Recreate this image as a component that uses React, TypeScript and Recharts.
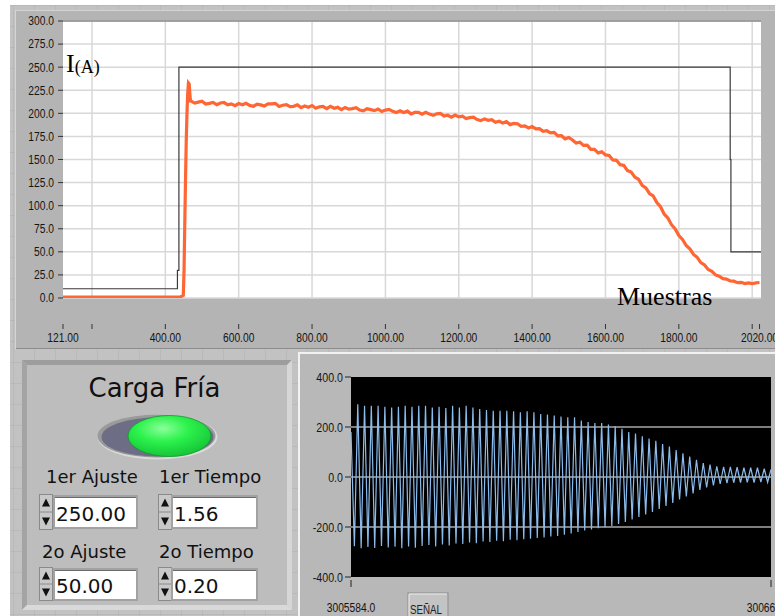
import React from 'react';
import { LineChart, Line, XAxis, YAxis, CartesianGrid, ReferenceLine } from 'recharts';

// ---- gráfico superior: corriente vs muestras ----
const ticksCorriente = [0, 25, 50, 75, 100, 125, 150, 175, 200, 225, 250, 275, 300];
const ticksMuestras = [121, 200, 400, 600, 800, 1000, 1200, 1400, 1600, 1800, 2000, 2020];
const etiquetasMuestras = [121, 400, 600, 800, 1000, 1200, 1400, 1600, 1800, 2020];
const rejillaMuestras = [200, 400, 600, 800, 1000, 1200, 1400, 1600, 1800, 2000];

// consigna (escalones)
const consignaX = [121, 433, 433, 437, 437, 1940, 1940, 1942, 1942, 2024];
const consignaY = [10, 10, 30, 30, 250, 250, 150, 150, 50, 50];

// arranque de la corriente medida
const arranqueX = [121, 300, 440, 445, 449, 451, 453, 455, 457, 459, 461, 463, 465, 467, 469];
const arranqueY = [1, 1, 1, 2, 3, 30, 80, 128, 170, 200, 222, 233, 232, 220, 212];

// corriente medida desde la muestra 470, cada 10 muestras
const inicioMedida = 470;
const pasoMedida = 10;
const corrienteMedida = [
  213.2, 211.1, 212.1, 213.1, 210.1, 210.8, 211.8, 209.4, 211.2, 211.7,
  209.2, 210.2, 208.3, 210.6, 209.2, 210.8, 208.6, 207.7, 209.8, 209.1,
  208.0, 210.3, 210.2, 210.8, 207.5, 208.8, 209.4, 207.2, 207.6, 209.2,
  206.2, 207.9, 206.6, 208.4, 205.5, 207.0, 207.4, 205.2, 207.6, 205.5,
  206.5, 204.1, 206.4, 204.6, 205.1, 206.1, 203.5, 202.7, 205.0, 204.0,
  202.9, 204.7, 202.0, 203.5, 204.2, 202.1, 200.8, 202.8, 201.0, 202.4,
  199.4, 201.0, 201.1, 199.1, 201.1, 199.2, 197.8, 199.5, 199.9, 197.1,
  197.9, 195.9, 198.1, 196.1, 196.9, 194.3, 195.3, 195.8, 193.2, 192.1,
  194.0, 192.4, 193.1, 190.3, 191.4, 189.6, 191.0, 187.8, 189.1, 188.7,
  186.0, 186.4, 184.2, 185.7, 183.1, 183.4, 180.5, 181.1, 178.8, 179.4,
  175.5, 175.8, 172.4, 173.9, 171.2, 167.9, 168.8, 165.2, 165.5, 161.0,
  161.0, 157.2, 158.3, 155.0, 154.4, 149.5, 149.1, 144.4, 143.6, 138.0,
  136.4, 130.9, 128.6, 122.1, 119.3, 113.2, 110.6, 103.4, 98.9, 91.0,
  86.7, 79.4, 74.8, 67.6, 63.4, 56.8, 53.2, 47.2, 44.1, 38.4,
  35.8, 30.9, 28.8, 25.0, 23.7, 21.0, 20.5, 18.4, 18.2, 16.6,
  17.0, 15.6, 16.3, 15.5, 16.4, 16.8,
];

// ---- gráfico inferior: señal ----
const ticksSenal = [-400, -200, 0, 200, 400];
const rejillaSenal = [-200, 0, 200];
const etiquetasSenal = ['3005584.0', '3006608.0'];
// picos de la señal (valle, cresta) en orden
const senal = [
  180,
  -277, 291, -285, 285, -280, 285, -284, 285, -276, 281,
  -282, 278, -279, 281, -285, 285, -278, 281, -283, 285,
  -276, 285, -272, 278, -278, 281, -270, 276, -274, 285,
  -266, 278, -268, 285, -262, 278, -265, 272, -258, 268,
  -260, 265, -255, 265, -257, 265, -251, 263, -253, 259,
  -249, 263, -247, 259, -244, 252, -242, 250, -238, 246,
  -236, 242, -231, 239, -226, 239, -220, 226, -214, 220,
  -210, 216, -205, 216, -201, 210, -196, 203, -188, 193,
  -180, 180, -170, 174, -160, 163, -150, 154, -140, 145,
  -128, 132, -116, 122, -104, 108, -90, 95, -78, 82,
  -66, 69, -52, 56, -42, 50, -34, 43, -28, 41,
  -25, 41, -23, 39, -22, 37, -21, 37, -22, 37,
  -20, 33, -21, 30,
];

const fuenteEje = "'Liberation Sans', Arial, sans-serif";
const fuentePanel = "'DejaVu Sans', sans-serif";
const fuenteSerif = "'Liberation Serif', 'DejaVu Serif', serif";

// ancho de la letra estrecha de LabVIEW (para comprimir el texto)
const anchoAngosto = (t: string, f: number) =>
  f * Array.from(t).reduce((a, c) => a + (c === '.' ? 0.228 : c === '-' ? 0.273 : 0.456), 0);

const serieConsigna = consignaX.map((m, k) => ({ m, i: consignaY[k] }));
const serieMedida = arranqueX
  .map((m, k) => ({ m, i: arranqueY[k] }))
  .concat(corrienteMedida.map((v, k) => ({ m: inicioMedida + k * pasoMedida, i: v })));
const serieSenal = senal.map((v, n) => ({ n, v }));

const TextoEje = ({ x, y, texto, size, anchor }: { x: number; y: number; texto: string; size: number; anchor: string }) => (
  <text
    x={x}
    y={y}
    textAnchor={anchor}
    fontSize={size}
    fontFamily={fuenteEje}
    fill="#141414"
    textLength={anchoAngosto(texto, size)}
    lengthAdjust="spacingAndGlyphs"
  >
    {texto}
  </text>
);

const TickMuestras = (props: any) => {
  const { x, y, payload } = props;
  const conEtiqueta = etiquetasMuestras.includes(payload.value);
  return (
    <g>
      <line x1={x} x2={x} y1={y + 26} y2={y + 31} stroke="#333" />
      {conEtiqueta && <TextoEje x={x} y={y + 44} texto={payload.value.toFixed(2)} size={12.5} anchor="middle" />}
    </g>
  );
};

const TickCorriente = (props: any) => {
  const { x, y, payload } = props;
  return <TextoEje x={x} y={y + 4.4} texto={payload.value.toFixed(1)} size={12.5} anchor="end" />;
};

const TickSenalY = (props: any) => {
  const { x, y, payload } = props;
  return <TextoEje x={x} y={y + 4.6} texto={payload.value.toFixed(1)} size={13} anchor="end" />;
};

const TickSenal = (props: any) => {
  const { x, y, index } = props;
  return (
    <g>
      <line x1={x} x2={x} y1={y + 3} y2={y + 10} stroke="#222" />
      <TextoEje x={x} y={y + 35} texto={etiquetasSenal[index]} size={12.5} anchor="middle" />
    </g>
  );
};

const Spinner = ({ x, y, h }: { x: number; y: number; h: number }) => (
  <g>
    <rect x={x} y={y} width={13} height={h} fill="#c9c9c9" stroke="#8a8a8a" />
    <line x1={x} x2={x + 13} y1={y + h / 2} y2={y + h / 2} stroke="#8a8a8a" />
    <path d={`M${x + 2.5} ${y + 12} L${x + 10.5} ${y + 12} L${x + 6.5} ${y + 4} Z`} fill="#111" />
    <path d={`M${x + 2.5} ${y + h - 12} L${x + 10.5} ${y + h - 12} L${x + 6.5} ${y + h - 4} Z`} fill="#111" />
  </g>
);

const CajaNumero = ({ x, y, w, h, valor }: { x: number; y: number; w: number; h: number; valor: string }) => (
  <g>
    <rect x={x} y={y} width={w} height={h} fill="#ffffff" stroke="#a2a2a2" strokeWidth={2} />
    <line x1={x + 1} x2={x + w - 1} y1={y + 1.5} y2={y + 1.5} stroke="#6a6a6a" />
    <text x={x + 2} y={y + h - 7} fontSize={20} fontFamily={fuentePanel} fill="#111">
      {valor}
    </text>
  </g>
);

const Panel = () => (
  <svg width={775} height={616} style={{ position: 'absolute', left: 0, top: 0 }}>
    <defs>
      <pattern id="rejilla" width={21} height={21} patternUnits="userSpaceOnUse" x={13} y={5}>
        <rect width={21} height={21} fill="#c2c2c2" />
        <path d="M0 0 H21 M0 0 V21" stroke="#b0b0b0" strokeWidth={1} />
      </pattern>
      <radialGradient id="verde" cx="42%" cy="32%" r="70%">
        <stop offset="0%" stopColor="#8bff9a" />
        <stop offset="45%" stopColor="#2cf24c" />
        <stop offset="100%" stopColor="#14c437" />
      </radialGradient>
    </defs>
    <rect width={775} height={616} fill="#ffffff" />
    <rect x={10} y={5} width={765} height={611} fill="url(#rejilla)" />

    {/* caja de controles */}
    <rect x={22} y={360} width={270} height={250} fill="#bdbdbd" />
    <path d="M22 360 L292 360 L287 365 L27 365 Z" fill="#9d9d9d" />
    <path d="M22 360 L27 365 L27 605 L22 610 Z" fill="#a4a4a4" />
    <path d="M292 360 L292 610 L287 605 L287 365 Z" fill="#d6d6d6" />
    <path d="M22 610 L292 610 L287 605 L27 605 Z" fill="#d9d9d9" />

    <text x={154.5} y={397} textAnchor="middle" fontSize={26} fontFamily={fuentePanel} fill="#111">
      Carga Fría
    </text>

    {/* LED */}
    <ellipse cx={157.5} cy={437} rx={60} ry={22.5} fill="#dadada" />
    <ellipse cx={156.5} cy={436} rx={59} ry={21.5} fill="#9a9a9a" />
    <ellipse cx={157.5} cy={437} rx={56} ry={19.5} fill="#6d6d86" />
    <ellipse cx={169.5} cy={436} rx={41.5} ry={20.5} fill="url(#verde)" stroke="#109a30" strokeWidth={0.8} />

    <text x={46} y={483} fontSize={18} fontFamily={fuentePanel} fill="#111">1er Ajuste</text>
    <text x={159} y={483} fontSize={18} fontFamily={fuentePanel} fill="#111">1er Tiempo</text>
    <Spinner x={39.5} y={494.5} h={35} />
    <CajaNumero x={54} y={496} w={83} h={32} valor="250.00" />
    <Spinner x={158.5} y={494.5} h={35} />
    <CajaNumero x={172} y={496} w={85} h={32} valor="1.56" />

    <text x={42} y={558} fontSize={18} fontFamily={fuentePanel} fill="#111">2o Ajuste</text>
    <text x={159} y={558} fontSize={18} fontFamily={fuentePanel} fill="#111">2o Tiempo</text>
    <Spinner x={39.5} y={567.5} h={33} />
    <CajaNumero x={54} y={569} w={83} h={31} valor="50.00" />
    <Spinner x={158.5} y={567.5} h={33} />
    <CajaNumero x={172} y={569} w={85} h={31} valor="0.20" />
  </svg>
);

const Superpuesto = () => (
  <svg width={775} height={616} style={{ position: 'absolute', left: 0, top: 0, pointerEvents: 'none' }}>
    <text x={66} y={72} fontFamily={fuenteSerif} fill="#000">
      <tspan fontSize={26}>I</tspan>
      <tspan fontSize={18} dy={1}>(A)</tspan>
    </text>
    <text x={617} y={305} fontFamily={fuenteSerif} fontSize={26} fill="#000">
      Muestras
    </text>
    <rect x={408} y={593} width={40} height={30} fill="#c4c4c4" stroke="#8c8c8c" />
    <line x1={409} x2={447} y1={594} y2={594} stroke="#ececec" />
    <line x1={409} x2={409} y1={594} y2={616} stroke="#ececec" />
    <text
      x={426}
      y={614}
      textAnchor="middle"
      fontSize={12}
      fontFamily={fuenteEje}
      fill="#222"
      textLength={32}
      lengthAdjust="spacingAndGlyphs"
    >
      SEÑAL
    </text>
  </svg>
);

const App: React.FC = () => {
  return (
    <div style={{ position: 'absolute', left: 0, top: 0, width: 775, height: 616, overflow: 'hidden' }}>
      <Panel />

      <div
        style={{
          position: 'absolute',
          left: 15,
          top: 10,
          width: 760,
          height: 339,
          background: '#b4b4b4',
          boxShadow: 'inset 1px 1px 0 #d4d4d4, inset 0 -1px 0 #8c8c8c',
        }}
      >
        <LineChart width={760} height={339} margin={{ top: 11, right: 14, left: 0, bottom: 0 }}>
          <CartesianGrid fill="#ffffff" fillOpacity={1} stroke="#d8d8d8" strokeWidth={1.5} vertical={false} />
          {rejillaMuestras.map((v) => (
            <ReferenceLine key={v} x={v} stroke="#d8d8d8" strokeWidth={1.5} />
          ))}
          <ReferenceLine y={300} stroke="#8c8c8c" strokeWidth={1.5} />
          <XAxis
            type="number"
            dataKey="m"
            domain={[121, 2024]}
            allowDataOverflow
            ticks={ticksMuestras}
            interval={0}
            height={51}
            tickSize={0}
            tickMargin={0}
            tickLine={false}
            axisLine={false}
            tick={(p: any) => <TickMuestras {...p} />}
          />
          <YAxis
            type="number"
            domain={[0, 300]}
            allowDataOverflow
            ticks={ticksCorriente}
            interval={0}
            width={48}
            tickSize={5}
            tickMargin={4}
            axisLine={false}
            tickLine={{ stroke: '#333' }}
            tick={(p: any) => <TickCorriente {...p} />}
          />
          <Line data={serieConsigna} dataKey="i" type="linear" stroke="#3a3a3a" strokeWidth={1.2} dot={false} isAnimationActive={false} />
          <Line data={serieMedida} dataKey="i" type="linear" stroke="#ff6633" strokeWidth={3.2} dot={false} isAnimationActive={false} />
        </LineChart>
      </div>

      <div
        style={{
          position: 'absolute',
          left: 298,
          top: 352,
          width: 477,
          height: 264,
          background: '#b8b8b8',
          boxShadow: 'inset 2px 2px 0 #f2f2f2',
        }}
      >
        <LineChart width={477} height={264} data={serieSenal} margin={{ top: 25, right: 4, left: 0, bottom: 0 }}>
          <CartesianGrid fill="#000000" fillOpacity={1} horizontal={false} vertical={false} />
          {rejillaSenal.map((v) => (
            <ReferenceLine key={v} y={v} stroke="#a8a8a8" strokeWidth={1.5} />
          ))}
          <XAxis
            type="number"
            dataKey="n"
            domain={[0, senal.length - 1]}
            ticks={[0, senal.length - 1]}
            interval={0}
            height={39}
            tickSize={0}
            tickMargin={0}
            tickLine={false}
            axisLine={false}
            tick={(p: any) => <TickSenal {...p} />}
          />
          <YAxis
            type="number"
            domain={[-400, 400]}
            ticks={ticksSenal}
            interval={0}
            width={53}
            tickSize={6}
            tickMargin={2}
            axisLine={false}
            tickLine={{ stroke: '#222' }}
            tick={(p: any) => <TickSenalY {...p} />}
          />
          <Line dataKey="v" type="linear" stroke="#8cbcec" strokeWidth={1.2} dot={false} isAnimationActive={false} />
        </LineChart>
      </div>

      <Superpuesto />
    </div>
  );
};

export default App;
